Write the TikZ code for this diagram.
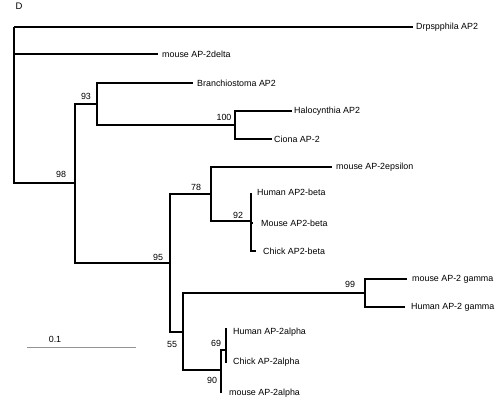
\documentclass[tikz,border=0pt]{standalone}
\usepackage{fontspec}
\setmainfont{Liberation Sans}
\begin{document}
\begin{tikzpicture}[x=1pt,y=-1pt,
  br/.style={line width=1.3pt,line join=miter},
  lbl/.style={anchor=west,inner sep=0pt,font=\fontsize{8.9}{9}\selectfont},
  bs/.style={inner sep=0pt,font=\fontsize{8.9}{9}\selectfont},
  scalebar/.style={line width=0.9pt,draw=black!42}]
\useasboundingbox (0,0) rectangle (500,405);
\node[bs,font=\fontsize{9.5}{10}\selectfont] (title) at (19,6) {D};
% internal nodes
\coordinate (root) at (14,27);
\coordinate (n98) at (75,183);
\coordinate (n93) at (97,104);
\coordinate (n100) at (235,125);
\coordinate (n95) at (170,263);
\coordinate (n78) at (211,194);
\coordinate (n92) at (251,221);
\coordinate (n55) at (183,332);
\coordinate (n99) at (365,293);
\coordinate (n90) at (221,370);
\coordinate (n69) at (226,350);
% leaves
\coordinate (dro) at (413,27);
\coordinate (delta) at (158,54);
\coordinate (bra) at (193,83);
\coordinate (halo) at (292,111);
\coordinate (ciona) at (272,139);
\coordinate (eps) at (332,167);
\coordinate (hbeta) at (251,193);
\coordinate (mbeta) at (253,223);
\coordinate (cbeta) at (256,251);
\coordinate (mgam) at (407,279);
\coordinate (hgam) at (405,307);
\coordinate (halpha) at (226,328);
\coordinate (calpha) at (226,363);
\coordinate (malpha) at (221,393);
% branches
\draw[br] (root) |- (dro);
\draw[br] (root) |- (delta);
\draw[br] (root) |- (n98);
\draw[br] (n98) |- (n93);
\draw[br] (n98) |- (n95);
\draw[br] (n93) |- (bra);
\draw[br] (n93) |- (n100);
\draw[br] (n100) |- (halo);
\draw[br] (n100) |- (ciona);
\draw[br] (n95) |- (n78);
\draw[br] (n95) |- (n55);
\draw[br] (n78) |- (eps);
\draw[br] (n78) |- (n92);
\draw[br] (n92) |- (hbeta);
\draw[br] (n92) |- (mbeta);
\draw[br] (n92) |- (cbeta);
\draw[br] (n55) |- (n99);
\draw[br] (n55) |- (n90);
\draw[br] (n99) |- (mgam);
\draw[br] (n99) |- (hgam);
\draw[br] (n90) |- (n69);
\draw[br] (n90) |- (malpha);
\draw[br] (n69) |- (halpha);
\draw[br] (n69) |- (calpha);
% leaf labels
\node[lbl] (tdro) at (416,27) {Drpspphila AP2};
\node[lbl] (tdelta) at (162,54) {mouse AP-2delta};
\node[lbl] (tbra) at (197,83) {Branchiostoma AP2};
\node[lbl] (thalo) at (294,111) {Halocynthia AP2};
\node[lbl] (tciona) at (274,139) {Ciona AP-2};
\node[lbl] (teps) at (336,167) {mouse AP-2epsilon};
\node[lbl] (thbeta) at (257,192) {Human AP2-beta};
\node[lbl] (tmbeta) at (261,223) {Mouse AP2-beta};
\node[lbl] (tcbeta) at (263,251) {Chick AP2-beta};
\node[lbl] (tmgam) at (412,279) {mouse AP-2 gamma};
\node[lbl] (thgam) at (411,307) {Human AP-2 gamma};
\node[lbl] (thalpha) at (233,332) {Human AP-2alpha};
\node[lbl] (tcalpha) at (233,362) {Chick AP-2alpha};
\node[lbl] (tmalpha) at (229,393) {mouse AP-2alpha};
% bootstrap values
\node[bs] (b98) at (61,174) {98};
\node[bs] (b93) at (86,96) {93};
\node[bs] (b100) at (224,117) {100};
\node[bs] (b78) at (196,187) {78};
\node[bs] (b92) at (238,215) {92};
\node[bs] (b95) at (158,257) {95};
\node[bs] (b55) at (172,344) {55};
\node[bs] (b99) at (350,284) {99};
\node[bs] (b69) at (216,343) {69};
\node[bs] (b90) at (212,380) {90};
% scale bar
\coordinate (sb1) at (27,347);
\coordinate (sb2) at (136,347);
\draw[scalebar] (sb1) -- (sb2);
\node[bs] (sbl) at (55,339) {0.1};
\end{tikzpicture}
\end{document}
